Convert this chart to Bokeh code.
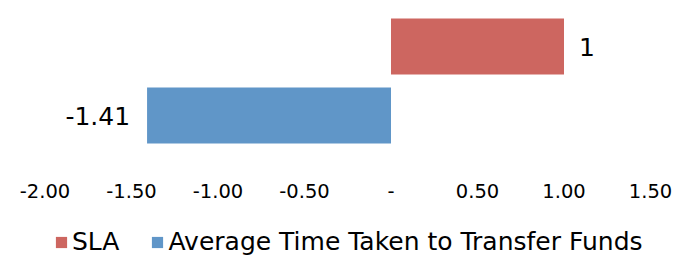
from bokeh.plotting import figure
from bokeh.layouts import column
from bokeh.models import (Range1d, FixedTicker, CustomJSTickFormatter, ColumnDataSource,
                          Legend, LegendItem)
from bokeh.core.properties import value
from bokeh.embed import file_html
from bokeh.resources import INLINE

# data
categories = ["SLA", "Average Time Taken to Transfer Funds"]
values = [1.0, -1.41]
value_labels = ["1", "-1.41"]
colors = ["#CD6660", "#6096C8"]
tick_values = [-2.0, -1.5, -1.0, -0.5, 0.0, 0.5, 1.0, 1.5]

FONT = "DejaVu Sans"
W = 681
FH = 165
BB = 38
LH = 258 - FH - BB

p = figure(width=W, height=FH + BB, frame_width=W, frame_height=FH,
           output_backend="svg", toolbar_location=None,
           x_range=Range1d(-2.2572, 1.6792), y_range=Range1d(-0.7246, 1.6667),
           y_axis_location=None, min_border_left=0, min_border_right=0,
           min_border_top=0, min_border_bottom=BB)
p.outline_line_color = None
p.xgrid.visible = False
p.ygrid.visible = False

n = len(categories)
ypos = [n - 1 - i for i in range(n)]
src = ColumnDataSource(dict(y=ypos, v=values, lab=value_labels,
                            xo=[15 if v >= 0 else -17 for v in values],
                            al=["left" if v >= 0 else "right" for v in values]))

for i in range(n):
    p.hbar(y=[ypos[i]], left=[0], right=[values[i]], height=0.8116,
           fill_color=colors[i], line_color=None)

p.text(x="v", y="y", text="lab", source=src, x_offset="xo", text_align="al",
       text_baseline="middle", text_font=value(FONT), text_font_size="25px",
       text_color="black")

ax = p.xaxis[0]
ax.ticker = FixedTicker(ticks=tick_values)
ax.formatter = CustomJSTickFormatter(code="return tick == 0 ? '-' : tick.toFixed(2);")
ax.axis_line_color = None
ax.major_tick_line_color = None
ax.minor_tick_line_color = None
ax.major_label_text_font = FONT
ax.major_label_text_font_size = "19.5px"
ax.major_label_text_color = "black"
ax.major_label_standoff = 12

# legend strip (proxy bars kept outside the visible y range)
q = figure(width=W, height=LH, frame_width=W, frame_height=LH,
           output_backend="svg", toolbar_location=None,
           x_axis_location=None, y_axis_location=None,
           x_range=Range1d(-2.2572, 1.6792), y_range=Range1d(10, 11),
           min_border_left=0, min_border_right=0, min_border_top=0, min_border_bottom=0)
q.outline_line_color = None
q.xgrid.visible = False
q.ygrid.visible = False
items = []
for i in range(n):
    r = q.hbar(y=[ypos[i]], left=[0], right=[values[i]], height=0.8,
               fill_color=colors[i], line_color=None)
    items.append(LegendItem(label=categories[i], renderers=[r]))
legend = Legend(items=items, orientation="horizontal", location=(54, 2),
                glyph_width=14, glyph_height=14, label_standoff=4, spacing=31,
                label_text_font=FONT, label_text_font_size="25px",
                label_text_color="black", border_line_color=None,
                background_fill_alpha=0, padding=0, margin=0)
q.add_layout(legend, "center")

layout = column(p, q, spacing=0)
open("out.html", "w").write(file_html(layout, INLINE))
